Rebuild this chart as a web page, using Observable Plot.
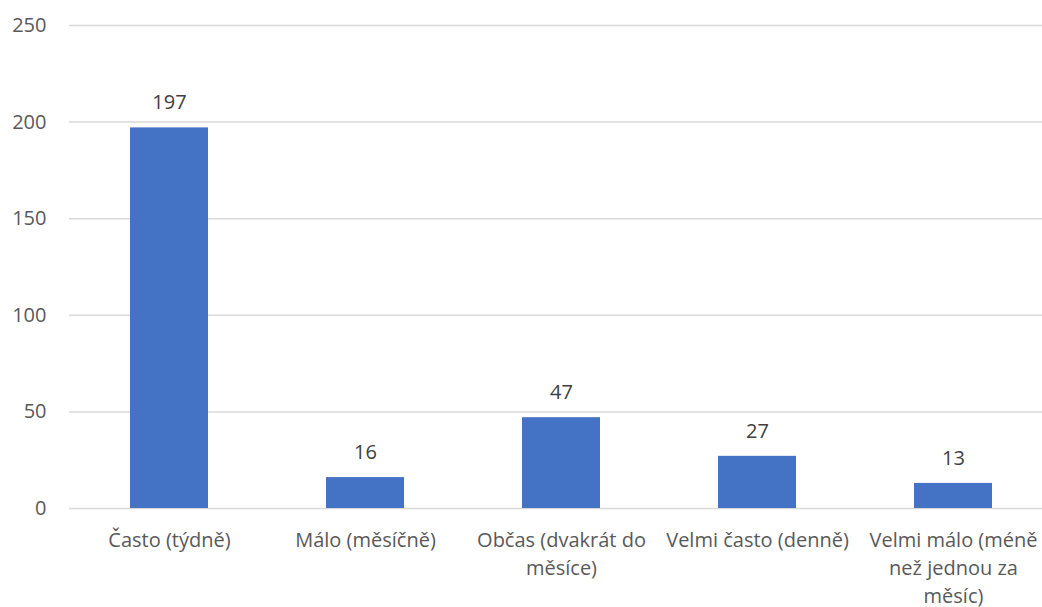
<!DOCTYPE html>
<html>
<head>
<meta charset="utf-8">
<script src="https://cdn.jsdelivr.net/npm/d3@7"></script>
<script src="https://cdn.jsdelivr.net/npm/@observablehq/plot@0.6"></script>
<style>
  body { margin: 0; background: #fff; }
  #chart { width: 1042px; height: 607px; overflow: hidden; }
</style>
</head>
<body>
<div id="chart"></div>
<script>
const categories = ["Často (týdně)", "Málo (měsíčně)", "Občas (dvakrát do měsíce)", "Velmi často (denně)", "Velmi málo (méně než jednou za měsíc)"];
const tickLabels = ["Často (týdně)", "Málo (měsíčně)", "Občas (dvakrát do\nměsíce)", "Velmi často (denně)", "Velmi málo (méně\nnež jednou za\nměsíc)"];
const values = [197, 16, 47, 27, 13];
const yTicks = [0, 50, 100, 150, 200, 250];

const data = categories.map((c, i) => ({category: c, value: values[i]}));
const labelMap = new Map(categories.map((c, i) => [c, tickLabels[i]]));

const chart = Plot.plot({
  width: 1042,
  height: 607,
  marginTop: 25,
  marginBottom: 99,
  marginLeft: 69,
  marginRight: 0,
  style: { fontFamily: "'Open Sans', 'Noto Sans', sans-serif", fontSize: "20px", color: "#595959", background: "#fff", overflow: "hidden" },
  x: { domain: categories, range: [69, 1053], paddingInner: 0.6, paddingOuter: 0.3, label: null },
  y: { domain: [0, 250], label: null },
  marks: [
    Plot.ruleY(yTicks, { stroke: "#d9d9d9", strokeWidth: 1.5 }),
    Plot.barY(data, { x: "category", y: "value", fill: "#4472C4" }),
    Plot.text(data, { x: "category", y: "value", text: d => String(d.value), dy: -25, fill: "#404040", fontSize: 20 }),
    Plot.axisY(yTicks, { tickSize: 0, tickPadding: 23, fontSize: 20, fill: "#595959" }),
    Plot.axisX({ tickSize: 0, tickPadding: 19, fontSize: 20, fill: "#595959", lineHeight: 1.4, tickFormat: d => labelMap.get(d) })
  ]
});
document.getElementById("chart").appendChild(chart);
</script>
</body>
</html>
